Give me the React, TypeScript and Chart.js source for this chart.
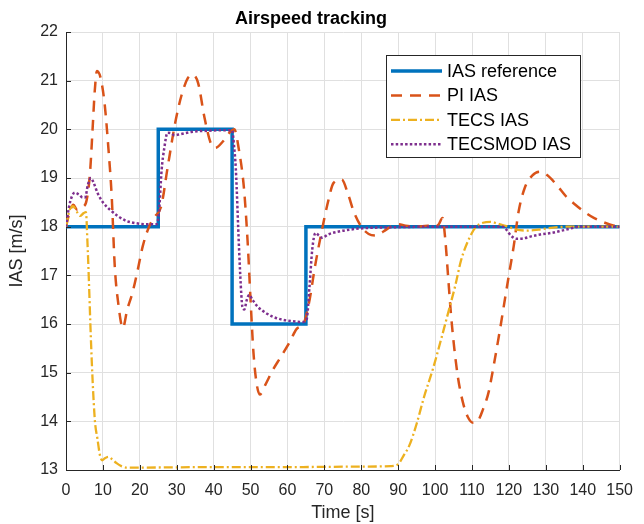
import { useEffect, useRef } from "react";
import { Chart, registerables } from "chart.js";

Chart.register(...registerables);

// Axis ranges and tick spacing
const timeTicks = { min: 0, max: 150, step: 10 };
const iasTicks = { min: 13, max: 22, step: 1 };

// IAS reference (step commands)
const refTime = [0, 25, 25, 45, 45, 65, 65, 150];
const refIas = [18, 18, 20, 20, 16, 16, 18, 18];

// PI controller response
const piTime = [
  0, 1, 2, 3, 4.5, 5.6, 6.5, 7.2, 7.8, 8.4, 9.4, 10.5, 11.5, 12.4, 13.2, 14.2, 15.4, 16.6, 18, 19.4,
  20.8, 22.5, 24, 25.8, 27.5, 29.5, 31.3, 33, 34.3, 35.8, 37.5, 39.2, 40.5, 42.5, 44.5, 45.6, 46.8,
  48.2, 49.2, 50, 50.8, 51.6, 52.5, 54, 56, 58, 60.4, 62.5, 64.5, 66, 67.5, 69, 70.8, 72.5, 74.7,
  76.5, 78, 80, 82, 84, 86, 88, 90, 92, 95, 98, 100, 101, 102, 102.8, 103.5, 104.3, 105.2, 106.2,
  107.5, 108.8, 110.3, 111.5, 113, 114.5, 116, 117.5, 119, 120.2, 121.3, 122.6, 124.3, 126.3,
  128.3, 130.5, 133, 135.5, 138, 140.5, 143, 146, 148.5, 150,
];
const piIas = [
  18.0, 18.3, 18.45, 18.35, 18.4, 18.55, 19.1, 20.0, 20.8, 21.2, 21.05, 20.5, 19.6, 18.6, 17.2, 16.4,
  15.92, 16.3, 16.64, 17.1, 17.6, 18.0, 18.2, 18.42, 19.2, 20.1, 20.7, 21.05, 21.12, 20.95, 20.25,
  19.72, 19.62, 19.75, 19.95, 20.0, 19.6, 18.8, 17.7, 16.5, 15.4, 14.8, 14.55, 14.75, 15.05, 15.3,
  15.6, 15.9, 16.03, 16.5, 17.2, 17.8, 18.45, 18.9, 18.97, 18.65, 18.3, 18.0, 17.85, 17.82, 17.9,
  18.0, 18.05, 18.02, 18.0, 18.02, 18.0, 18.05, 18.18, 17.7, 17.0, 16.2, 15.5, 14.9, 14.4, 14.1,
  13.97, 14.0, 14.25, 14.6, 15.2, 15.85, 16.55, 17.1, 17.6, 18.3, 18.8, 19.05, 19.13, 19.05, 18.85,
  18.62, 18.45, 18.3, 18.18, 18.08, 18.02, 18.0,
];

// TECS response
const tecsTime = [
  0, 1, 1.9, 3, 3.8, 4.8, 5.4, 5.8, 6.2, 6.6, 7, 7.5, 7.9, 8.5, 9.2, 9.8, 10.5, 11.5, 12.5, 13.7, 15,
  16.5, 20, 40, 60, 80, 88, 90, 91.5, 93, 95, 97, 99.5, 101.5, 103.5, 105.5, 107, 109, 110.9, 113,
  115, 117, 119.8, 122, 125, 128, 132, 136, 150,
];
const tecsIas = [
  18.0, 18.35, 18.42, 18.3, 18.22, 18.28, 18.3, 17.7, 16.9, 16.0, 15.2, 14.4, 13.95, 13.65, 13.3,
  13.2, 13.24, 13.27, 13.22, 13.14, 13.08, 13.05, 13.05, 13.06, 13.06, 13.07, 13.08, 13.12, 13.3,
  13.5, 13.95, 14.5, 15.1, 15.65, 16.22, 16.8, 17.3, 17.72, 17.98, 18.08, 18.1, 18.06, 18.0, 17.94,
  17.92, 17.94, 17.98, 18.0, 18.0,
];

// Modified TECS response
const tecsModTime = [
  0, 0.8, 1.6, 2.4, 3.5, 4.5, 5.2, 5.9, 6.7, 7.5, 8.5, 10, 11.9, 14, 16.3, 19, 22, 24.5, 25.2, 25.9,
  26.6, 27.5, 28.5, 29.4, 31, 34.3, 38, 42, 45, 45.6, 46, 46.9, 47.5, 47.8, 48.3, 49, 49.6, 50.5, 52,
  54.1, 56, 58.6, 61, 64, 65.2, 66, 66.7, 67.6, 68.5, 69.4, 71, 73.9, 77, 81, 90, 100, 118.4, 119.5,
  120.5, 122, 124, 126, 128.5, 131.4, 135, 139.5, 150,
];
const tecsModIas = [
  18.0, 18.4, 18.62, 18.7, 18.66, 18.6, 18.6, 18.85, 19.0, 18.9, 18.7, 18.5, 18.35, 18.22, 18.12,
  18.07, 18.05, 18.05, 18.3, 19.16, 19.6, 19.93, 19.92, 19.88, 19.9, 19.95, 19.97, 19.98, 19.98,
  19.6, 19.2, 17.52, 16.6, 16.35, 16.3, 16.5, 16.6, 16.5, 16.35, 16.23, 16.15, 16.09, 16.06, 16.04,
  16.1, 16.8, 17.52, 17.87, 17.82, 17.77, 17.84, 17.9, 17.94, 17.97, 17.99, 18.0, 18.0, 17.92,
  17.82, 17.75, 17.76, 17.8, 17.84, 17.87, 17.93, 18.0, 18.0,
];

const seriesLabels = ["IAS reference", "PI IAS", "TECS IAS", "TECSMOD IAS"];

const FONT = "'Liberation Sans', Arial, Helvetica, sans-serif";
const AXIS_COLOR = "#262626";

const pairs = (xs: number[], ys: number[]) => xs.map((x, i) => ({ x, y: ys[i] }));

// Inward tick marks plus a boxed legend drawn inside the plot area
const decorations = {
  id: "decorations",
  afterDraw(chart: any) {
    const { ctx, chartArea, scales } = chart;
    ctx.save();
    ctx.strokeStyle = AXIS_COLOR;
    ctx.lineWidth = 1;
    ctx.setLineDash([]);
    ctx.beginPath();
    scales.x.ticks.forEach((t: any) => {
      const px = Math.round(scales.x.getPixelForValue(t.value)) + 0.5;
      ctx.moveTo(px, chartArea.bottom);
      ctx.lineTo(px, chartArea.bottom - 5);
    });
    scales.y.ticks.forEach((t: any) => {
      const py = Math.round(scales.y.getPixelForValue(t.value)) + 0.5;
      ctx.moveTo(chartArea.left, py);
      ctx.lineTo(chartArea.left + 5, py);
    });
    ctx.stroke();

    // legend
    const bx = 386.5;
    const by = 55.5;
    const bw = 194;
    const bh = 102;
    ctx.fillStyle = "#ffffff";
    ctx.fillRect(bx, by, bw, bh);
    ctx.strokeStyle = AXIS_COLOR;
    ctx.lineWidth = 1;
    ctx.strokeRect(bx, by, bw, bh);
    ctx.font = `18px ${FONT}`;
    ctx.textBaseline = "middle";
    ctx.textAlign = "left";
    chart.data.datasets.forEach((ds: any, i: number) => {
      const y = 71 + i * 24.4;
      ctx.beginPath();
      ctx.strokeStyle = ds.borderColor;
      ctx.lineWidth = ds.borderWidth;
      ctx.setLineDash(ds.borderDash || []);
      ctx.moveTo(391, y);
      ctx.lineTo(442, y);
      ctx.stroke();
      ctx.setLineDash([]);
      ctx.fillStyle = "#000000";
      ctx.fillText(ds.label, 447, y + 1);
    });
    ctx.restore();
  },
};

export default function App() {
  const canvasRef = useRef<HTMLCanvasElement | null>(null);

  useEffect(() => {
    document.body.style.margin = "0";
    const canvas = canvasRef.current;
    if (!canvas) return;
    const chart = new Chart(canvas, {
      type: "line",
      data: {
        datasets: [
          {
            label: seriesLabels[0],
            data: pairs(refTime, refIas),
            borderColor: "#0072BD",
            borderWidth: 3.5,
            tension: 0,
            order: 4,
          },
          {
            label: seriesLabels[1],
            data: pairs(piTime, piIas),
            borderColor: "#D95319",
            borderWidth: 2.5,
            borderDash: [11, 8],
            cubicInterpolationMode: "monotone",
            order: 3,
          },
          {
            label: seriesLabels[2],
            data: pairs(tecsTime, tecsIas),
            borderColor: "#EDB120",
            borderWidth: 2.3,
            borderDash: [9, 3, 2, 3],
            cubicInterpolationMode: "monotone",
            order: 2,
          },
          {
            label: seriesLabels[3],
            data: pairs(tecsModTime, tecsModIas),
            borderColor: "#7E2F8E",
            borderWidth: 2.5,
            borderDash: [2.5, 2.2],
            cubicInterpolationMode: "monotone",
            order: 1,
          },
        ] as any,
      },
      options: {
        responsive: false,
        animation: false,
        layout: { padding: { left: 0, right: 22, top: 0, bottom: 0 } },
        elements: { point: { radius: 0 }, line: { fill: false } },
        plugins: {
          legend: { display: false },
          tooltip: { enabled: false },
          title: {
            display: true,
            text: "Airspeed tracking",
            color: "#000000",
            font: { family: FONT, size: 18, weight: "bold" },
            padding: { top: 8, bottom: 2.4 },
          },
        },
        scales: {
          x: {
            type: "linear",
            min: timeTicks.min,
            max: timeTicks.max,
            ticks: {
              stepSize: timeTicks.step,
              color: AXIS_COLOR,
              font: { family: FONT, size: 16 },
              padding: 11,
              maxRotation: 0,
            },
            grid: { color: "#e0e0e0", lineWidth: 1, drawTicks: false },
            border: { display: true, color: AXIS_COLOR, width: 1 },
            title: {
              display: true,
              text: "Time [s]",
              color: AXIS_COLOR,
              font: { family: FONT, size: 18 },
              padding: { top: 0, bottom: 0 },
            },
            afterFit: (scale: any) => {
              scale.height = 54;
            },
          },
          y: {
            type: "linear",
            min: iasTicks.min,
            max: iasTicks.max,
            ticks: {
              stepSize: iasTicks.step,
              color: AXIS_COLOR,
              font: { family: FONT, size: 16 },
              padding: 8,
            },
            grid: { color: "#e0e0e0", lineWidth: 1, drawTicks: false },
            border: { display: true, color: AXIS_COLOR, width: 1 },
            title: {
              display: true,
              text: "IAS [m/s]",
              color: AXIS_COLOR,
              font: { family: FONT, size: 18 },
              padding: { top: 6, bottom: 0 },
            },
            afterFit: (scale: any) => {
              scale.width = 66;
            },
          },
        },
      } as any,
      plugins: [decorations],
    });
    return () => chart.destroy();
  }, []);

  return (
    <div style={{ position: "absolute", left: 0, top: 0, width: 644, height: 524, background: "#fff" }}>
      <canvas ref={canvasRef} width={644} height={524} style={{ width: 644, height: 524 }} />
    </div>
  );
}
